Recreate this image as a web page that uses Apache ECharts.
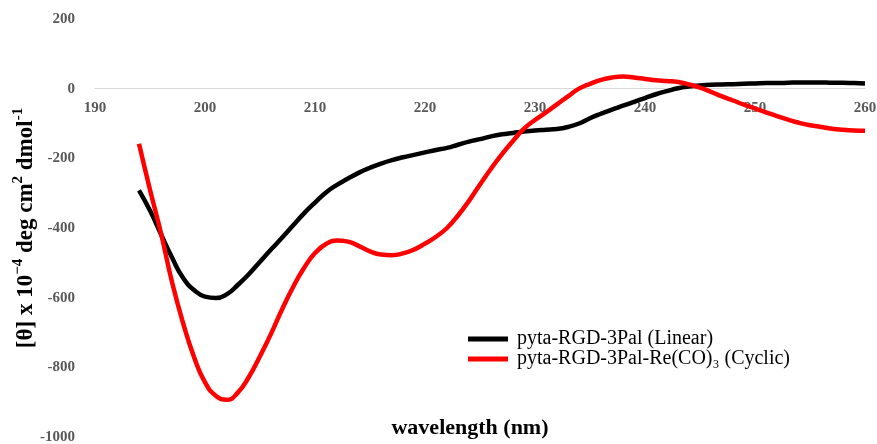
<!DOCTYPE html>
<html><head><meta charset="utf-8">
<script src="https://cdn.jsdelivr.net/npm/echarts@6/dist/echarts.min.js"></script>
<style>html,body{margin:0;padding:0;background:#fff}#c{width:877px;height:444px}</style>
</head><body><div id="c"></div>
<script>
const wavelengths = [194,195,196,197,198,199,200,201,202,203,204,205,206,207,208,209,210,211,212,213,214,215,216,217,218,219,220,221,222,223,224,225,226,227,228,229,230,231,232,233,234,235,236,237,238,239,240,241,242,243,244,245,246,247,248,249,250,251,252,253,254,255,256,257,258,259,260];
const linearValues = [-292,-350,-418,-485,-543,-578,-597,-601,-590,-563,-532,-497,-462,-428,-393,-358,-327,-298,-276,-258,-241,-227,-215,-205,-197,-190,-183,-176,-170,-161,-152,-145,-137,-131,-127,-123,-120,-118,-116,-110,-100,-85,-72,-60,-49,-38,-27,-16,-7,1,6,9,11,12,13,14,15,16,16,17,18,18,18,17,17,16,15];
const cyclicValues = [-158,-290,-415,-555,-672,-770,-843,-882,-893,-872,-827,-768,-704,-634,-570,-515,-472,-446,-436,-439,-452,-467,-476,-478,-473,-462,-445,-425,-400,-364,-322,-275,-230,-188,-150,-115,-90,-68,-45,-22,0,14,25,32,35,32,28,24,22,19,12,3,-9,-22,-34,-46,-57,-68,-79,-89,-98,-105,-110,-115,-118,-120,-121];
const seriesNames = ['pyta-RGD-3Pal (Linear)', 'pyta-RGD-3Pal-Re(CO)\u2083 (Cyclic)'];
const xTicks = {min:190, max:260, interval:10};
const yTicks = {min:-1000, max:200, interval:200};
const xTitle = 'wavelength (nm)';
const yTitle = '{m|[\u03b8] x 10}{s|\u22124}{m| deg cm}{s|2}{m| dmol}{s|-1}';

const serif = '"Liberation Serif","Times New Roman",serif';
const chart = echarts.init(document.getElementById('c'), null, {renderer:'canvas'});
const pair = vals => wavelengths.map((w,i)=>[w, vals[i]]);
const gridTop = 19, gridBottom = 7, H = 444;
const plotH = H - gridTop - gridBottom;
const zeroFromBottom = plotH * (0 - yTicks.min) / (yTicks.max - yTicks.min);
chart.setOption({
  animation:false,
  grid:{left:95, right:12, top:gridTop, bottom:gridBottom, containLabel:false, outerBoundsMode:'none'},
  legend:{
    orient:'vertical', left:463, top:324, itemWidth:40, itemHeight:5, itemGap:0,
    icon:'rect',
    textStyle:{fontFamily:serif, fontSize:20, color:'#000', padding:[0,0,0,4]},
    data:seriesNames
  },
  xAxis:{
    type:'value', min:xTicks.min, max:xTicks.max, interval:xTicks.interval,
    offset:-zeroFromBottom,
    axisLine:{onZero:false, lineStyle:{color:'#d9d9d9', width:1}},
    axisTick:{show:false}, splitLine:{show:false},
    axisLabel:{fontFamily:serif, fontWeight:'bold', fontSize:15, color:'#595959', margin:12}
  },
  yAxis:{
    type:'value', min:yTicks.min, max:yTicks.max, interval:yTicks.interval,
    axisLine:{show:false}, axisTick:{show:false}, splitLine:{show:false},
    axisLabel:{fontFamily:serif, fontWeight:'bold', fontSize:15, color:'#595959', margin:20, formatter:v=>String(v)}
  },
  graphic:[
    {type:'text', x:470, y:417, style:{text:xTitle, font:'bold 22px '+serif, fill:'#000', textAlign:'center'}},
    {type:'text', rotation:Math.PI/2, x:24, y:228, style:{
      text:yTitle, fill:'#000', textAlign:'center', textVerticalAlign:'middle',
      rich:{
        m:{fontFamily:serif, fontWeight:'bold', fontSize:23, lineHeight:27, verticalAlign:'bottom', fill:'#000'},
        s:{fontFamily:serif, fontWeight:'bold', fontSize:15, lineHeight:27, verticalAlign:'top', fill:'#000'}
      }
    }}
  ],
  series:[
    {name:seriesNames[0], type:'line', smooth:true, showSymbol:false, data:pair(linearValues), lineStyle:{color:'#000', width:4.5}, itemStyle:{color:'#000'}},
    {name:seriesNames[1], type:'line', smooth:true, showSymbol:false, data:pair(cyclicValues), lineStyle:{color:'#ff0000', width:4.5}, itemStyle:{color:'#ff0000'}}
  ]
});
</script></body></html>
